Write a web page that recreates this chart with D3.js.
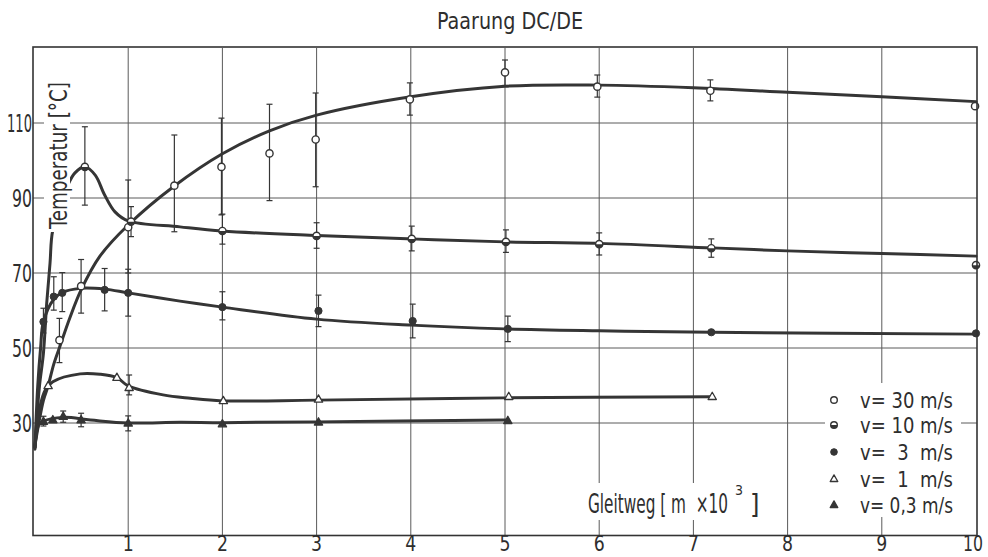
<!DOCTYPE html>
<html><head><meta charset="utf-8">
<script src="https://cdn.jsdelivr.net/npm/d3@7"></script>
<style>
body{margin:0;background:#fff;}
svg{display:block;background:#fff;}
text{font-family:"DejaVu Sans Condensed","DejaVu Sans",sans-serif;fill:#2e2e2e;white-space:pre;}
</style></head><body>
<svg id="c" width="988" height="557"></svg>
<script>
// ---- axis ticks ----
const xTicks = [1,2,3,4,5,6,7,8,9,10];
const yTicks = [30,50,70,90,110];
const title = "Paarung DC/DE";
const yLabel = "Temperatur [°C]";
const legendLabels = ["v= 30 m/s","v= 10 m/s","v=  3  m/s","v=  1  m/s","v= 0,3 m/s"];

// ---- measured points: [Gleitweg (10^3 m), Temperatur, err low, err high] ----
const pts30 = [[0.27,52.1,46.1,57.9],[0.50,66.5,59.3,73.6],[1.00,82.2,70.0,94.8],[1.49,93.3,81.0,106.8],
  [1.99,98.3,85.5,111.3],[2.50,101.9,89.3,115.0],[2.99,105.6,93.0,118.0],[3.99,116.3,112.1,120.7],
  [5.00,123.5,120.0,126.8],[5.98,119.7,116.9,122.8],[7.18,118.6,115.9,121.5],[9.99,114.5,null,null]];
const pts10 = [[0.54,98.3,88.1,109.0],[1.03,83.7,79.7,87.7],[2.00,81.2,77.7,85.7],[3.00,79.9,76.6,83.4],
  [4.01,79.1,75.9,82.5],[5.01,78.3,75.5,81.5],[6.00,77.7,74.8,80.7],[7.19,76.6,74.2,79.1],[10.0,72.1,null,null]];
const pts3 = [[0.10,57.0,54.0,60.6],[0.21,63.7,60.1,69.0],[0.30,64.7,59.7,70.1],[0.75,65.5,59.9,71.2],
  [1.00,64.7,58.5,71.0],[2.00,60.9,57.5,65.0],[3.02,59.9,55.7,64.1],[4.02,57.2,52.7,61.7],
  [5.03,55.1,51.7,58.5],[7.19,54.2,null,null],[10.0,53.9,null,null]];
const pts1 = [[0.15,39.9,null,null],[0.88,42.1,null,null],[1.01,39.4,37.5,42.8],[2.01,35.9,null,null],
  [3.02,36.3,null,null],[5.04,37.0,null,null],[7.20,37.0,null,null]];
const pts03 = [[0.10,30.4,29.2,31.8],[0.20,30.8,null,null],[0.31,31.7,30.2,33.2],[0.50,30.8,29.0,32.6],
  [1.00,29.9,27.9,31.9],[2.00,29.7,null,null],[3.02,30.2,null,null],[5.03,30.6,null,null]];

// ---- fitted curves drawn in the original ----
const curve30 = [[0.01,24],[0.1,36],[0.15,39.9],[0.21,45.7],[0.28,50.8],[0.38,58],[0.5,65.5],[0.7,74.5],
  [1.0,82.8],[1.49,93.2],[2.0,101.8],[2.5,107.9],[3.0,112.1],[4.0,117],[5.0,119.8],[6.0,120.1],
  [7.0,119.4],[8.0,118.2],[9.0,117],[10.0,115.7]];
const curve10 = [[0.01,23],[0.03,31.3],[0.06,40.3],[0.1,48.6],[0.135,62],[0.17,72.6],[0.2,81.5],
  [0.36,93.5],[0.435,96.7],[0.54,98.3],[0.65,96.1],[0.75,90.8],[0.86,86.3],[1.0,83.9],[1.55,82.3],
  [2.0,81.2],[3.0,80.0],[4.0,79.1],[5.0,78.3],[6.0,77.9],[7.2,76.7],[8.0,75.9],[9.0,75.2],[10.0,74.5]];
const curve3 = [[0.01,23.5],[0.04,40],[0.07,50],[0.1,57],[0.21,63],[0.3,64.8],[0.49,65.9],[0.75,65.7],
  [1.0,64.7],[1.55,62.5],[2.0,60.9],[3.0,57.7],[4.0,56.1],[5.0,55.1],[6.0,54.6],[7.2,54.2],[10.0,53.7]];
const curve1 = [[0.01,23.5],[0.06,34],[0.12,38.8],[0.2,41],[0.49,43.1],[0.7,43],[0.88,42.1],[1.0,39.9],
  [1.37,37.5],[1.66,36.6],[2.0,35.9],[3.0,36.1],[5.0,36.7],[7.2,37.0]];
const curve03 = [[0.01,23.5],[0.05,29.5],[0.1,30.5],[0.31,31.5],[0.6,30.8],[1.0,30.0],[1.55,30.2],
  [2.0,30.1],[3.0,30.3],[5.0,30.8]];

const svg = d3.select("#c");
const x = d3.scaleLinear().domain([0,10]).range([34,976]);
const y = d3.scaleLinear().domain([0,130]).range([535.5,48]);
const ink = "#353535";

// grid
const grid = svg.append("g").attr("stroke","#5a5a5a").attr("stroke-width",1);
grid.selectAll("line.v").data(xTicks.filter(d=>d<10)).join("line")
  .attr("x1",d=>x(d)).attr("x2",d=>x(d)).attr("y1",y(130)).attr("y2",y(0));
grid.selectAll("line.h").data(yTicks).join("line")
  .attr("x1",x(0)-1).attr("x2",x(10)+1).attr("y1",d=>y(d)).attr("y2",d=>y(d));

// curves
const line = d3.line().x(d=>x(d[0])).y(d=>y(d[1])).curve(d3.curveCatmullRom.alpha(0.5));
const cg = svg.append("g").attr("fill","none").attr("stroke",ink).attr("stroke-width",3).attr("stroke-linecap","round");
[curve30,curve10,curve3,curve1,curve03].forEach(c=>cg.append("path").attr("d",line(c)));

// error bars
const eg = svg.append("g").attr("stroke",ink).attr("stroke-width",1.2);
[pts30,pts10,pts3,pts1,pts03].forEach(s=>{
  s.filter(d=>d[2]!=null).forEach(d=>{
    const cx = x(d[0]);
    eg.append("line").attr("x1",cx).attr("x2",cx).attr("y1",y(d[2])).attr("y2",y(d[3]));
    eg.append("line").attr("x1",cx-3).attr("x2",cx+3).attr("y1",y(d[2])).attr("y2",y(d[2]));
    eg.append("line").attr("x1",cx-3).attr("x2",cx+3).attr("y1",y(d[3])).attr("y2",y(d[3]));
  });
});

// symbols
function sym(g,type,cx,cy,r){
  if(type==="open"){
    g.append("circle").attr("cx",cx).attr("cy",cy).attr("r",r).attr("fill","#fff").attr("stroke",ink).attr("stroke-width",1.4);
  } else if(type==="half"){
    g.append("circle").attr("cx",cx).attr("cy",cy).attr("r",r).attr("fill","#fff").attr("stroke",ink).attr("stroke-width",1.4);
    g.append("path").attr("d",`M${cx-r},${cy}A${r},${r} 0 0 0 ${cx+r},${cy}Z`).attr("fill",ink);
  } else if(type==="fill"){
    g.append("circle").attr("cx",cx).attr("cy",cy).attr("r",r).attr("fill",ink).attr("stroke",ink).attr("stroke-width",1);
  } else {
    const s=r*2.3, h=s*0.87;
    g.append("path").attr("d",`M${cx},${cy-h*0.62}L${cx+s/2},${cy+h*0.38}L${cx-s/2},${cy+h*0.38}Z`)
      .attr("fill",type==="tri"?"#fff":ink).attr("stroke",ink).attr("stroke-width",1.3).attr("stroke-linejoin","round");
  }
}
const pg = svg.append("g");
const series = [[pts30,"open"],[pts10,"half"],[pts3,"fill"],[pts1,"tri"],[pts03,"trif"]];
series.forEach(([s,t])=>s.forEach(d=>sym(pg,t,x(d[0]),y(d[1]),3.6)));

// frame
svg.append("rect").attr("x",x(0)-1).attr("y",y(130)-1).attr("width",x(10)-x(0)+2).attr("height",y(0)-y(130)+1)
  .attr("fill","none").attr("stroke","#333").attr("stroke-width",1.6);

// white label backgrounds
svg.append("rect").attr("x",44).attr("y",78).attr("width",26).attr("height",154).attr("fill","#fff");
svg.append("rect").attr("x",584).attr("y",483).attr("width",178).attr("height",37).attr("fill","#fff");
svg.append("rect").attr("x",825).attr("y",383).attr("width",136).attr("height",134).attr("fill","#fff");

// texts
function txt(g,str,px,py,size,len,anchor){
  const t=g.append("text").attr("x",px).attr("y",py).attr("font-size",size).attr("text-anchor",anchor||"start").text(str);
  if(len) t.attr("textLength",len).attr("lengthAdjust","spacingAndGlyphs");
  return t;
}
const tg = svg.append("g");
txt(tg,title,510,29,23,146,"middle");
xTicks.forEach(d=>txt(tg,String(d),x(d)-(d===10?3:0),551,22,d===10?20:11,"middle"));
yTicks.forEach(d=>txt(tg,String(d),32,y(d)+9,25,d>=100?25:20,"end"));
txt(tg,yLabel,0,0,25,147,"start").attr("transform","translate(67,229) rotate(-90)");
const gl = tg.append("text").attr("x",588).attr("y",513).attr("font-size",27);
gl.append("tspan").attr("textLength",140).attr("lengthAdjust","spacingAndGlyphs").text("Gleitweg [ m  ×10");
gl.append("tspan").attr("x",735).attr("dy",-18).attr("font-size",14).text("3");
gl.append("tspan").attr("x",750).attr("dy",18).text("]");

// legend
const legTypes = ["open","half","fill","tri","trif"];
const legY = [400,425,452,479,505];
legendLabels.forEach((l,i)=>{
  sym(tg,legTypes[i],834,legY[i],3.3);
  txt(tg,l,860,legY[i]+8,22,93,"start");
});
</script>
</body></html>
